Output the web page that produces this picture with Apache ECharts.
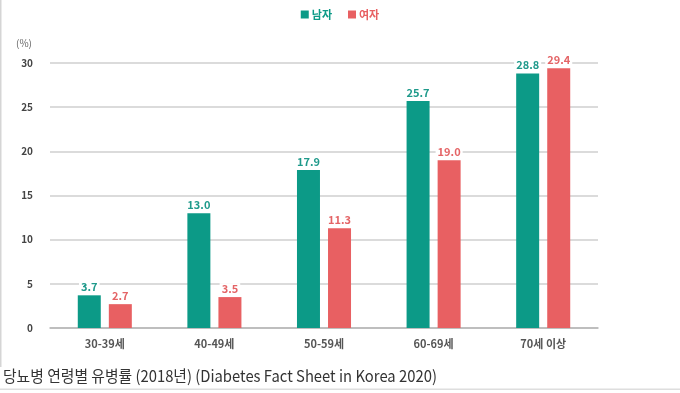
<!DOCTYPE html>
<html><head><meta charset="utf-8">
<script src="https://cdn.jsdelivr.net/npm/echarts@6/dist/echarts.min.js"></script>
<style>html,body{margin:0;padding:0;background:#fff}#c{width:680px;height:393px}</style>
</head><body><div id="c"></div>
<script>
const categories = ['30-39세', '40-49세', '50-59세', '60-69세', '70세 이상'];
const maleValues = [3.7, 13.0, 17.9, 25.7, 28.8];
const femaleValues = [2.7, 3.5, 11.3, 19.0, 29.4];
const seriesNames = ['남자', '여자'];
const yTicks = [0, 5, 10, 15, 20, 25, 30];
const caption = '당뇨병 연령별 유병률 (2018년) (Diabetes Fact Sheet in Korea 2020)';

const GREEN = '#0c9a87', RED = '#e86062';
const FONT = '"Noto Sans CJK KR", "Noto Sans", sans-serif';
const chart = echarts.init(document.getElementById('c'));
const lbl = (color) => ({
  show: true, position: 'top', distance: 3, color: color, fontSize: 11, fontWeight: 'bold',
  fontFamily: FONT, backgroundColor: '#fff', padding: [0, 2],
  formatter: p => p.value.toFixed(1)
});
chart.setOption({
  animation: false,
  textStyle: { fontFamily: FONT },
  legend: {
    top: 4, left: 'center', itemWidth: 8, itemHeight: 8, itemGap: 16,
    icon: 'rect',
    textStyle: { fontSize: 11, fontWeight: 'bold', fontFamily: FONT, padding: [0, 0, 0, -2] },
    data: [
      { name: seriesNames[0], textStyle: { color: GREEN } },
      { name: seriesNames[1], textStyle: { color: RED } }
    ]
  },
  grid: { left: 50, right: 82, top: 63, bottom: 65 },
  xAxis: {
    type: 'category', data: categories,
    axisLine: { lineStyle: { color: '#b5b5b5', width: 1.5 } },
    axisTick: { show: false },
    axisLabel: { color: '#555', fontSize: 11, fontWeight: 'bold', margin: 10, fontFamily: FONT }
  },
  yAxis: {
    type: 'value', min: yTicks[0], max: yTicks[yTicks.length - 1], interval: 5,
    axisLine: { show: false }, axisTick: { show: false },
    axisLabel: { color: '#444', fontSize: 10, fontWeight: 'bold', margin: 17, fontFamily: FONT },
    splitLine: { lineStyle: { color: '#cfcfcf', width: 1.5 } }
  },
  series: [
    { name: seriesNames[0], type: 'bar', data: maleValues, barWidth: 23, barGap: '35%',
      itemStyle: { color: GREEN }, label: lbl('#1f9a8b') },
    { name: seriesNames[1], type: 'bar', data: femaleValues, barWidth: 23,
      itemStyle: { color: RED }, label: lbl('#e46466') }
  ],
  graphic: [
    { type: 'text', left: 16, top: 38, style: { text: '(%)', fontSize: 10, fill: '#666', fontFamily: FONT } },
    { type: 'rect', shape: { x: 0, y: 0, width: 1.5, height: 367 }, style: { fill: '#d5d5d5' } },
    { type: 'rect', shape: { x: 0, y: 388.5, width: 680, height: 1.5 }, style: { fill: '#dedede' } },
    { type: 'text', x: 3, y: 368, scaleX: 0.925, style: { text: caption, fontSize: 16, fill: '#333', fontFamily: FONT } }
  ]
});
</script></body></html>
